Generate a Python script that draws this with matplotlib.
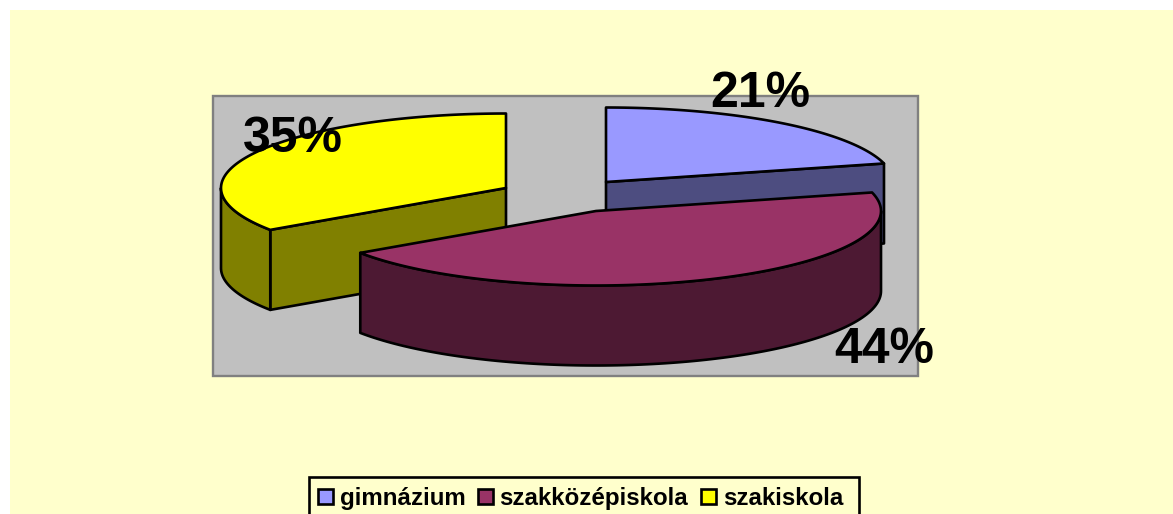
import numpy as np
import matplotlib
matplotlib.use("Agg")
import matplotlib.pyplot as plt
from matplotlib.patches import Polygon, Rectangle, Patch

categories = ["gimnázium", "szakközépiskola", "szakiskola"]
values = [21.0, 44.5, 34.5]
top_colors = ["#9999FF", "#993366", "#FFFF00"]
side_colors = ["#4D4D80", "#4D1933", "#808000"]
percent_labels = ["21%", "44%", "35%"]

plt.rcParams["font.family"] = ["Liberation Sans", "DejaVu Sans"]
W, H = 1173, 514
fig = plt.figure(figsize=(W / 100, H / 100), dpi=100, facecolor="white")
ax = fig.add_axes([0, 0, 1, 1])
ax.set_xlim(0, W)
ax.set_ylim(H, 0)
ax.axis("off")

radii_x = [287, 285, 285]
RY, DEPTH = 74.5, 80
LW = 1.9
centers = [(606, 182), (596, 211), (506, 188)]
label_pos = [(760, 107), (884, 363), (293, 152)]
flat_wall_edge = [1, None, 0]   # which radial edge of each slice faces the viewer

ax.add_patch(Rectangle((10, 10), W, H, fc="#FFFFCC", ec="none", zorder=0))
ax.add_patch(Rectangle((213, 96), 705, 280, fc="#C0C0C0", ec="#808080", lw=1.7, zorder=1))

edges = np.cumsum([0] + values) / sum(values) * 2 * np.pi


def rim(i, a0, a1, dy=0.0):
    cx, cy = centers[i]
    t = np.linspace(a0, a1, 120)
    return np.column_stack([cx + radii_x[i] * np.sin(t), cy - RY * np.cos(t) + dy])


def poly(points, color, z):
    ax.add_patch(Polygon(points, closed=True, fc=color, ec="black", lw=LW,
                         joinstyle="round", zorder=z))


def draw_slice(i, z):
    cx, cy = centers[i]
    a0, a1 = edges[i], edges[i + 1]
    if flat_wall_edge[i] is not None:
        a = edges[i + flat_wall_edge[i]]
        c = rim(i, a, a)[0]
        poly([(cx, cy), c, (c[0], c[1] + DEPTH), (cx, cy + DEPTH)], side_colors[i], z)
    lo, hi = max(a0, np.pi / 2), min(a1, 3 * np.pi / 2)
    if lo < hi:
        top = rim(i, lo, hi)
        bottom = rim(i, lo, hi, DEPTH)[::-1]
        poly(np.vstack([top, bottom]), side_colors[i], z + 0.1)
    poly(np.vstack([[(cx, cy)], rim(i, a0, a1)]), top_colors[i], z + 0.2)


for i, z in zip([0, 2, 1], [2, 3, 4]):
    draw_slice(i, z)

for text, (x, y) in zip(percent_labels, label_pos):
    ax.text(x, y, text, ha="center", va="baseline", fontsize=36,
            fontweight="bold", color="black", zorder=6)

ax.add_patch(Rectangle((309, 477), 550, 60, fc="#FFFFCC", ec="black", lw=1.9, zorder=6.5))
handles = [Patch(fc=c, ec="black", lw=1.9, label=n) for c, n in zip(top_colors, categories)]
leg = ax.legend(handles=handles, ncol=3, loc="upper left",
                bbox_to_anchor=(318, 487), bbox_transform=ax.transData,
                prop={"size": 17.4, "weight": "bold"},
                frameon=False, borderaxespad=0, borderpad=0,
                handlelength=0.62, handleheight=0.62, handletextpad=0.27,
                columnspacing=0.53, labelspacing=0)
leg.set_zorder(7)

fig.savefig("out.png", dpi=100, facecolor="white")
